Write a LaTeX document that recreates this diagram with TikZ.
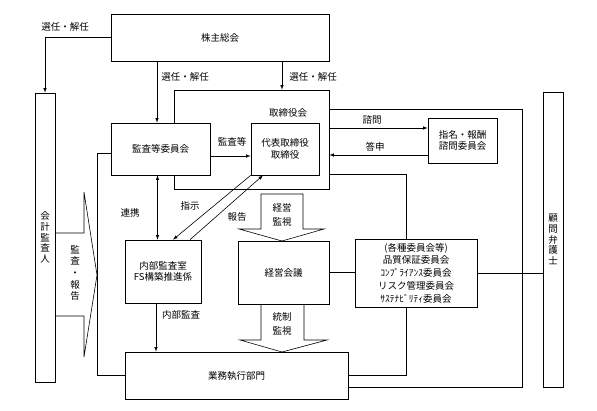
\documentclass[tikz,border=0pt]{standalone}
\usepackage{fontspec}
\setmainfont{Noto Sans CJK JP}
\usepackage{tikz}
\usetikzlibrary{arrows}
\usetikzlibrary{positioning}

\begin{document}
\begin{tikzpicture}[x=1pt,y=-1pt,
  font=\fontsize{9.5}{11.5}\selectfont,
  box/.style={draw, fill=white, inner sep=0pt, line width=0.6pt},
  lbl/.style={inner sep=0pt},
  vtxt/.style={box, align=center, font=\fontsize{9.5}{10.8}\selectfont},
  ln/.style={line width=0.6pt},
  arr/.style={ln, -latex}]
 \useasboundingbox (0,0) rectangle (597,410);

 \node[box, minimum width=218pt, minimum height=47pt] (kabu) at (220,37.5) {株主総会};
 \node[vtxt, minimum width=20pt, minimum height=289pt] (kaikei) at (45,237.5) {会\\計\\監\\査\\人};
 \node[vtxt, minimum width=20pt, minimum height=295pt] (komon) at (553,239.5) {顧\\問\\弁\\護\\士};

 \node[box, minimum width=155pt, minimum height=99pt] (torikai) at (251.5,139.5) {};
 \node[lbl] (torikaitxt) at (288,113) {取締役会};
 \node[box, minimum width=99pt, minimum height=52pt] (kansa) at (160.5,149) {監査等委員会};
 \node[box, align=center, minimum width=68pt, minimum height=52pt] (daihyo) at (285,149) {代表取締役\\取締役};
 \node[box, align=center, minimum width=69pt, minimum height=45pt] (shimei) at (462.5,140.5) {指名・報酬\\諮問委員会};
 \node[box, align=center, minimum width=76pt, minimum height=63pt] (naibu) at (163,271.5) {内部監査室\\FS構築推進係};

 % block arrows
 \draw[ln] (261,194) -- (303,194) -- (303,229) -- (324,229) -- (282,241) -- (239,229) -- (261,229) -- cycle;
 \node[lbl, align=center, font=\fontsize{9.5}{14}\selectfont] (kanshi1) at (282,215) {経営\\監視};
 \draw[ln] (261,304) -- (261,340) -- (240,340) -- (282,352) -- (327,340) -- (304,340) -- (304,304);
 \node[lbl, align=center, font=\fontsize{9.5}{14}\selectfont] (kanshi2) at (282,324) {統制\\監視};
 \draw[ln] (55,233) -- (84,233) -- (84,192) -- (97,275) -- (84,357) -- (84,316) -- (55,316);
 \node[lbl, align=center, font=\fontsize{9.5}{11.7}\selectfont] (hokoku1) at (75,273) {監\\査\\・\\報\\告};

 \node[box, minimum width=91pt, minimum height=63pt] (keiei) at (283.5,272.5) {経営会議};
 \node[box, align=center, minimum width=122pt, minimum height=68pt, font=\fontsize{9.5}{12.8}\selectfont] (kakushu) at (416,273) {(各種委員会等)\\品質保証委員会\\ｺﾝﾌﾟﾗｲｱﾝｽ委員会\\リスク管理委員会\\ｻｽﾃﾅﾋﾞﾘﾃｨ委員会};
 \node[box, minimum width=223pt, minimum height=47pt] (gyomu) at (236.5,375.5) {業務執行部門};

 % selection
 \draw[arr] (kabu.west) -| (kaikei.north);
 \node[lbl] (sennin1) at (65,27) {選任・解任};
 \coordinate (k2) at ([xshift=-3.5pt]kansa.north);
 \draw[arr] (kabu.south -| k2) -- (k2);
 \node[lbl] (sennin2) at (185,77) {選任・解任};
 \coordinate (k3) at (282,0);
 \draw[arr] (kabu.south -| k3) -- (torikai.north -| k3);
 \node[lbl] (sennin3) at (313,77) {選任・解任};

 \draw[arr] ([yshift=-7pt]kansa.east) -- ([yshift=-7pt]daihyo.west);
 \node[lbl] (kansatou) at (232,142) {監査等};

 \coordinate (q1) at ([yshift=12.5pt]shimei.west);
 \draw[arr] (torikai.east |- q1) -- (q1);
 \node[lbl] (shimon) at (372,120) {諮問};
 \coordinate (q2) at ([yshift=-14.5pt]shimei.west);
 \draw[arr] (q2) -- (torikai.east |- q2);
 \node[lbl] (toushin) at (375,147) {答申};

 \coordinate (rt) at (522,109);
 \coordinate (rb) at (522,387);
 \draw[ln] (torikai.east |- rt) -- (rt) -- (rb) -- (gyomu.east |- rb);
 \coordinate (kt) at ([xshift=-10pt]kakushu.north);
 \coordinate (tk) at (0,174);
 \draw[ln] (torikai.east |- tk) -| (kt);
 \draw[ln] ([xshift=-10pt]kakushu.south) |- (gyomu.east);
 \draw[ln] (keiei.east) -- (keiei.east -| kakushu.west);
 \draw[ln] (kakushu.east) -- (kakushu.east -| komon.west);
 \coordinate (lk) at (97,153);
 \draw[ln] (kansa.west |- lk) -- (lk) |- (gyomu.west);

 \coordinate (k4) at ([xshift=-3pt]kansa.south);
 \draw[ln, latex-latex] (k4) -- (naibu.north -| k4);
 \node[lbl] (renkei) at (130,213) {連携};
 \draw[arr] (daihyo.south west) -- ([xshift=10pt]naibu.north);
 \node[lbl] (shiji) at (190,206) {指示};
 \draw[arr] ([xshift=27pt]naibu.north) -- ([xshift=-22pt]daihyo.south);
 \node[lbl] (houkoku) at (237,217) {報告};
 \coordinate (k5) at ([xshift=-7pt]naibu.south);
 \draw[arr] (k5) -- (gyomu.north -| k5);
 \node[lbl] (naibukansa) at (181,315) {内部監査};

 \end{tikzpicture}
\end{document}
